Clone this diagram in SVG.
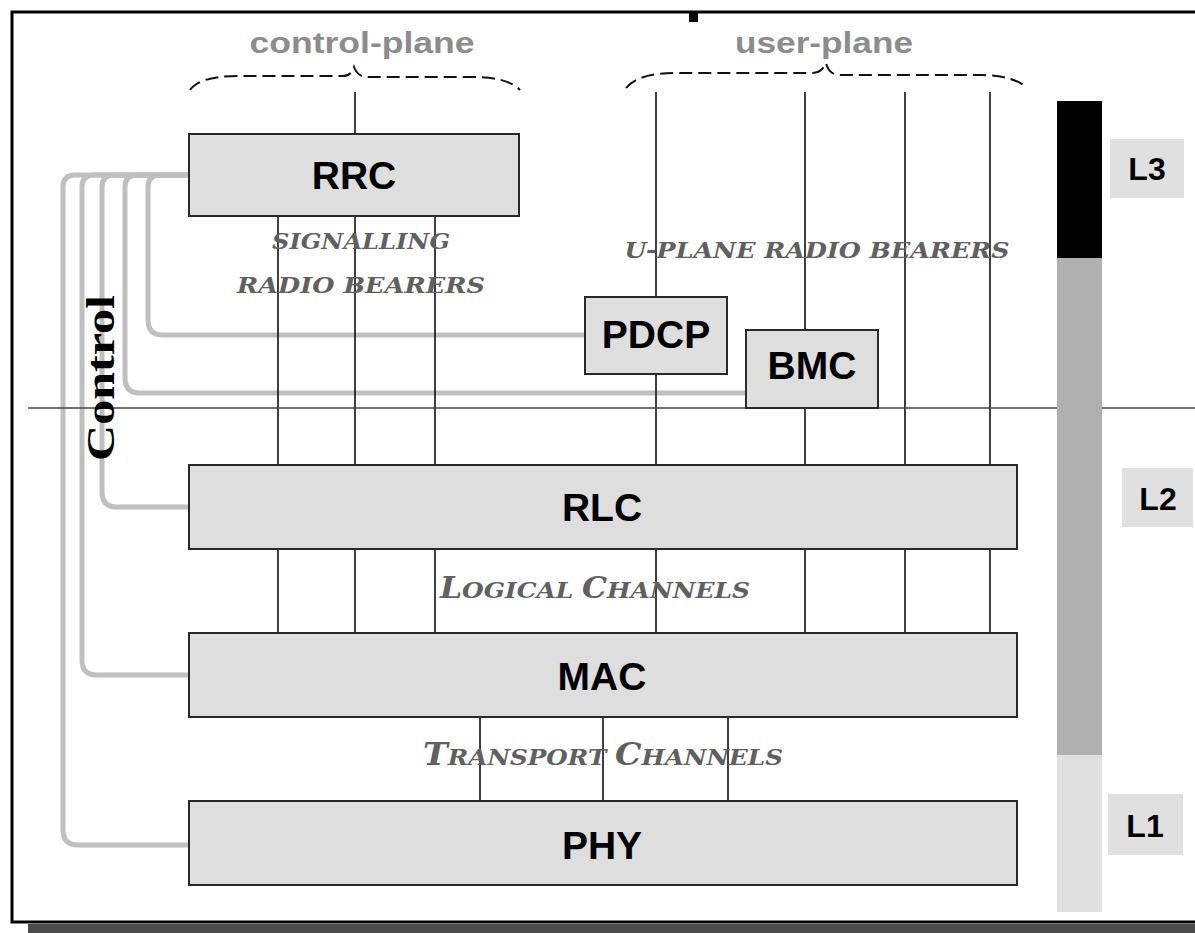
<svg xmlns="http://www.w3.org/2000/svg" width="1195" height="933" viewBox="0 0 1195 933">
  <style>
    .box { fill: #dedede; stroke: #2a2a2a; stroke-width: 2; }
    .lbl { font-family: "Liberation Sans", Arial, sans-serif; font-weight: bold; font-size: 39px; fill: #000; text-anchor: middle; }
    .lay { font-family: "Liberation Sans", Arial, sans-serif; font-weight: bold; font-size: 32px; fill: #000; text-anchor: middle; }
    .plane { font-family: "Liberation Sans", Arial, sans-serif; font-weight: bold; font-size: 30px; fill: #8c8c8c; text-anchor: middle; }
    .ital { font-family: "DejaVu Serif", "Liberation Serif", serif; font-weight: bold; font-style: italic; font-size: 23px; fill: #606060; text-anchor: middle; }
    .wire { stroke: #111; stroke-width: 1.6; fill: none; }
    .ctl { stroke: #bfbfbf; stroke-width: 5; fill: none; }
    .brace { stroke: #111; stroke-width: 2; fill: none; stroke-dasharray: 13 6; }
  </style>

  <rect width="1195" height="933" fill="#fff"/>

  <!-- page frame with drop shadow -->
  <rect x="28" y="924" width="1167" height="9" fill="#4b4b4b"/>
  <path d="M1195,12 H12 V922 H1195" fill="none" stroke="#000" stroke-width="3"/>
  <rect x="689" y="12" width="9" height="10" fill="#000"/>

  <!-- layer scale bar -->
  <g id="layer-bar">
    <rect x="1057" y="101" width="45" height="157" fill="#000"/>
    <rect x="1057" y="258" width="45" height="497" fill="#b0b0b0"/>
    <rect x="1057" y="755" width="45" height="157" fill="#e0e0e0"/>
  </g>

  <!-- plane titles -->
  <text class="plane" x="362" y="53" textLength="225" lengthAdjust="spacingAndGlyphs">control-plane</text>
  <text class="plane" x="824" y="53" textLength="178" lengthAdjust="spacingAndGlyphs">user-plane</text>

  <g id="connectors">
    <!-- plane braces -->
    <path class="brace" d="M190,90 Q200,76 238,76 L343,76 Q351,76 354,67 Q358,77 367,77 L472,77 Q508,77 520,90"/>
    <path class="brace" d="M626,88 Q638,73 676,73 L812,73 Q822,73 826,63 Q829,75 840,75 L982,75 Q1015,76 1027,88"/>

    <!-- control links from RRC -->
    <path class="ctl" d="M189,175 H75 Q63,175 63,187 V830 Q63,845 78,845 H189"/>
    <path class="ctl" d="M189,175 H94 Q82,175 82,187 V660 Q82,675 97,675 H189"/>
    <path class="ctl" d="M189,175 H114 Q102,175 102,187 V492 Q102,507 117,507 H189"/>
    <path class="ctl" d="M189,175 H137 Q125,175 125,187 V378 Q125,393 140,393 H746"/>
    <path class="ctl" d="M189,175 H160 Q148,175 148,187 V320 Q148,335 163,335 H585"/>

    <!-- control-plane bearers -->
    <line class="wire" x1="355" y1="92" x2="355" y2="134"/>
    <line class="wire" x1="278" y1="216" x2="278" y2="465"/>
    <line class="wire" x1="355" y1="216" x2="355" y2="465"/>
    <line class="wire" x1="435" y1="216" x2="435" y2="465"/>

    <!-- user-plane bearers -->
    <line class="wire" x1="656" y1="92" x2="656" y2="297"/>
    <line class="wire" x1="656" y1="374" x2="656" y2="465"/>
    <line class="wire" x1="805" y1="92" x2="805" y2="330"/>
    <line class="wire" x1="805" y1="408" x2="805" y2="465"/>
    <line class="wire" x1="905" y1="92" x2="905" y2="465"/>
    <line class="wire" x1="990" y1="92" x2="990" y2="465"/>

    <!-- logical channels -->
    <line class="wire" x1="278" y1="549" x2="278" y2="633"/>
    <line class="wire" x1="355" y1="549" x2="355" y2="633"/>
    <line class="wire" x1="435" y1="549" x2="435" y2="633"/>
    <line class="wire" x1="656" y1="549" x2="656" y2="633"/>
    <line class="wire" x1="805" y1="549" x2="805" y2="633"/>
    <line class="wire" x1="905" y1="549" x2="905" y2="633"/>
    <line class="wire" x1="990" y1="549" x2="990" y2="633"/>

    <!-- transport channels -->
    <line class="wire" x1="480" y1="717" x2="480" y2="801"/>
    <line class="wire" x1="603" y1="717" x2="603" y2="801"/>
    <line class="wire" x1="728" y1="717" x2="728" y2="801"/>
  </g>

  <!-- L2 / L3 boundary -->
  <line x1="28" y1="408" x2="1195" y2="408" stroke="#444" stroke-width="1.3"/>
  <rect x="1057" y="398" width="45" height="20" fill="#b0b0b0"/>

  <text font-family="'Liberation Serif', 'Times New Roman', serif" font-weight="bold" font-size="40" fill="#000" text-anchor="middle" transform="translate(114,378) rotate(-90)" textLength="166" lengthAdjust="spacingAndGlyphs">Control</text>

  <!-- channel labels -->
  <text class="ital" x="361" y="249" textLength="178" lengthAdjust="spacingAndGlyphs">SIGNALLING</text>
  <text class="ital" x="361" y="293" textLength="248" lengthAdjust="spacingAndGlyphs">RADIO BEARERS</text>
  <text class="ital" x="817" y="258" textLength="385" lengthAdjust="spacingAndGlyphs">U-PLANE RADIO BEARERS</text>
  <text class="ital" x="595" y="598" textLength="310" lengthAdjust="spacingAndGlyphs"><tspan font-size="29">L</tspan>OGICAL <tspan font-size="29">C</tspan>HANNELS</text>
  <text class="ital" x="603" y="765" textLength="360" lengthAdjust="spacingAndGlyphs"><tspan font-size="31">T</tspan>RANSPORT <tspan font-size="31">C</tspan>HANNELS</text>

  <g id="rrc">
    <rect class="box" x="189" y="134" width="330" height="82"/>
    <text class="lbl" x="354" y="189">RRC</text>
  </g>
  <g id="pdcp">
    <rect class="box" x="585" y="297" width="142" height="77"/>
    <text class="lbl" x="656" y="348">PDCP</text>
  </g>
  <g id="bmc">
    <rect class="box" x="746" y="330" width="132" height="78"/>
    <text class="lbl" x="812" y="379">BMC</text>
  </g>
  <g id="rlc">
    <rect class="box" x="189" y="465" width="828" height="84"/>
    <text class="lbl" x="602" y="521">RLC</text>
  </g>
  <g id="mac">
    <rect class="box" x="189" y="633" width="828" height="84"/>
    <text class="lbl" x="602" y="690">MAC</text>
  </g>
  <g id="phy">
    <rect class="box" x="189" y="801" width="828" height="84"/>
    <text class="lbl" x="602" y="859">PHY</text>
  </g>

  <g id="l3">
    <rect x="1110" y="139" width="74" height="59" fill="#e0e0e0"/>
    <text class="lay" x="1147" y="180">L3</text>
  </g>
  <g id="l2">
    <rect x="1122" y="468" width="71" height="59" fill="#e0e0e0"/>
    <text class="lay" x="1158" y="510">L2</text>
  </g>
  <g id="l1">
    <rect x="1108" y="794" width="75" height="61" fill="#e0e0e0"/>
    <text class="lay" x="1145" y="837">L1</text>
  </g>
</svg>
